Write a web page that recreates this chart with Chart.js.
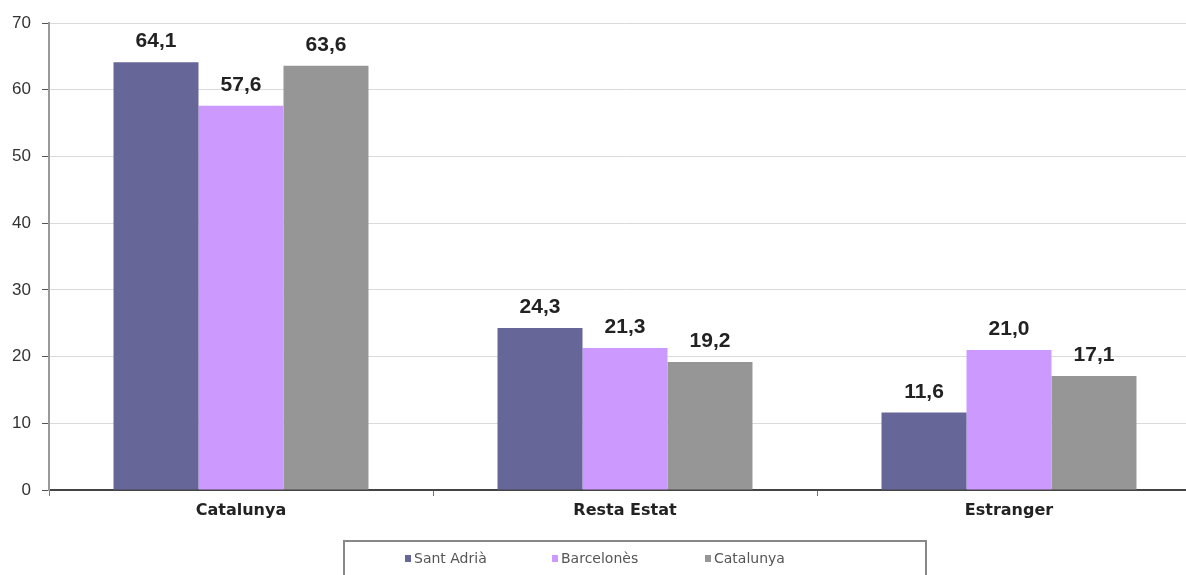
<!DOCTYPE html>
<html>
<head>
<meta charset="utf-8">
<script src="https://cdn.jsdelivr.net/npm/chart.js@4/dist/chart.umd.min.js"></script>
<style>
html,body{margin:0;padding:0;background:#fff;overflow:hidden;}
#wrap{position:relative;width:1220px;height:575px;}
</style>
</head>
<body>
<div id="wrap"><canvas id="c" width="1220" height="575"></canvas></div>
<script>
const categories = ["Catalunya", "Resta Estat", "Estranger"];
const seriesNames = ["Sant Adrià", "Barcelonès", "Catalunya"];
const santAdria = [64.1, 24.3, 11.6];
const barcelones = [57.6, 21.3, 21.0];
const catalunya = [63.6, 19.2, 17.1];
const yTicks = [0, 10, 20, 30, 40, 50, 60, 70];
const colors = ["#666699", "#cc99ff", "#969696"];

const fmt = v => v.toFixed(1).replace('.', ',');

const labelPlugin = {
  id: 'valLabels',
  afterDatasetsDraw(chart) {
    const ctx = chart.ctx;
    ctx.save();
    ctx.font = 'bold 21px "Liberation Sans", Arial, sans-serif';
    ctx.fillStyle = '#222';
    ctx.textAlign = 'center';
    ctx.textBaseline = 'alphabetic';
    chart.data.datasets.forEach((ds, di) => {
      const meta = chart.getDatasetMeta(di);
      meta.data.forEach((el, i) => {
        ctx.fillText(fmt(ds.data[i]), el.x, el.y - 15);
      });
    });
    ctx.restore();
  }
};

const legendPlugin = {
  id: 'boxLegend',
  afterDraw(chart) {
    const ctx = chart.ctx;
    ctx.save();
    ctx.strokeStyle = '#888';
    ctx.lineWidth = 2;
    ctx.beginPath();
    ctx.moveTo(344, 580);
    ctx.lineTo(344, 541);
    ctx.lineTo(926, 541);
    ctx.lineTo(926, 580);
    ctx.stroke();
    ctx.font = '14px "DejaVu Sans", sans-serif';
    ctx.textBaseline = 'middle';
    ctx.textAlign = 'left';
    const xs = [405, 552, 705];
    chart.data.datasets.forEach((ds, i) => {
      ctx.fillStyle = ds.backgroundColor;
      ctx.fillRect(xs[i], 555, 6, 7);
      ctx.fillStyle = '#555';
      ctx.fillText(ds.label, xs[i] + 9, 559);
    });
    ctx.restore();
  }
};

new Chart(document.getElementById('c'), {
  type: 'bar',
  data: {
    labels: categories,
    datasets: [
      { label: seriesNames[0], data: santAdria, backgroundColor: colors[0] },
      { label: seriesNames[1], data: barcelones, backgroundColor: colors[1] },
      { label: seriesNames[2], data: catalunya, backgroundColor: colors[2] }
    ]
  },
  options: {
    responsive: false,
    animation: false,
    devicePixelRatio: 1,
    layout: { padding: { top: 23, right: 19, left: 0, bottom: 0 } },
    datasets: { bar: { barPercentage: 1, categoryPercentage: 0.664 } },
    plugins: { legend: { display: false }, tooltip: { enabled: false } },
    scales: {
      x: {
        offset: true,
        grid: { display: true, drawOnChartArea: false, offset: true, tickLength: 6, tickColor: '#777', lineWidth: 1 },
        border: { color: '#444', width: 2 },
        ticks: { color: '#222', font: { family: '"DejaVu Sans", sans-serif', size: 16, weight: 'bold' }, padding: 5 },
        afterFit(s) { s.height = 85; }
      },
      y: {
        min: 0, max: 70,
        afterBuildTicks(s) { s.ticks = yTicks.map(v => ({ value: v })); },
        grid: { color: '#dadada', tickColor: '#555', tickLength: 7, lineWidth: 1 },
        border: { color: '#999', width: 2, dash: [] },
        ticks: { color: '#333', font: { family: '"Liberation Sans", Arial, sans-serif', size: 17 }, padding: 11 },
        afterFit(s) { s.width = 49; }
      }
    }
  },
  plugins: [labelPlugin, legendPlugin]
});
</script>
</body>
</html>
